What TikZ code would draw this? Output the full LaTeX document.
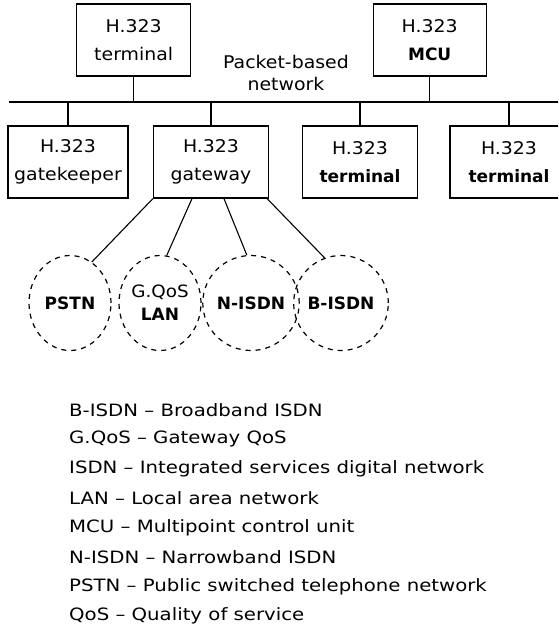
\documentclass[tikz,border=0pt]{standalone}
\usepackage{fontspec}
\setmainfont{DejaVu Sans}
% slightly widened faces for the box captions and the abbreviation list
\newfontfamily\boxfont[FakeStretch=1.08]{DejaVu Sans}
\newfontfamily\listfont[FakeStretch=1.16]{DejaVu Sans}
\newcommand\heavy[1]{{\rmfamily\bfseries\fontsize{17}{28}\selectfont #1}}
\usetikzlibrary{shapes.geometric,calc}
\tikzset{
  unitbox/.style={draw, line width=1.3pt, minimum width=115pt, minimum height=72pt,
    inner sep=1pt, align=center, font=\boxfont\fontsize{17.5}{28}\selectfont},
  cloud/.style={draw, dashed, dash pattern=on 5pt off 5pt, line width=1.2pt, ellipse,
    minimum width=82pt, minimum height=95pt, inner sep=0pt, align=center,
    font=\fontsize{17}{23}\selectfont},
  link/.style={line width=1.3pt},
  wire/.style={line width=1.1pt},
  legendtext/.style={anchor=west, inner sep=0pt, font=\listfont\fontsize{17}{20}\selectfont}
}
\begin{document}
\begin{tikzpicture}[x=1pt,y=-1pt]
\useasboundingbox (0,0) rectangle (558,633);
\begin{scope}
\clip (0,0) rectangle (558,633);
% upper row
\node[unitbox, minimum width=114pt] (term1) at (133.7,40) {H.323\\terminal};
\node[unitbox, minimum width=113pt] (mcu) at (429.7,40) {H.323\\\heavy{MCU}};
\node[align=center, inner sep=0pt, font=\boxfont\fontsize{17.5}{22}\selectfont] (pkt) at (286,73) {Packet-based\\network};
% shared bus
\coordinate (busL) at (9,102);
\coordinate (busR) at (560,102);
\draw[link] (busL) -- (busR);
% lower row
\node[unitbox, minimum width=120pt] (gk) at (68,162) {H.323\\gatekeeper};
\node[unitbox] (gw) at (211,162) {H.323\\gateway};
\node[unitbox] (term2) at (360,162) {H.323\\\heavy{terminal}};
\node[unitbox, minimum width=118pt] (term3) at (509,162) {H.323\\\heavy{terminal}};
\end{scope}
% drops onto the bus
\draw[link] (term1.south) -- (term1.south |- busL);
\draw[link] (mcu.south) -- (mcu.south |- busL);
\foreach \n in {gk,gw,term2,term3}
  \draw[link] (\n.north) -- (\n.north |- busL);
% networks behind the gateway
\node[cloud] (pstn) at (70,303) {\textbf{PSTN}};
\node[cloud] (gqos) at (160,303) {{\boxfont G.QoS}\\\textbf{LAN}};
\node[cloud] (nisdn) at (251,303) {\textbf{N-ISDN}};
\node[cloud] (bisdn) at (341,303) {\textbf{B-ISDN}};
\draw[wire] (gw.south west) -- (pstn.62);
\draw[wire] ([xshift=-19pt]gw.south) -- (gqos.82);
\draw[wire] ([xshift=13pt]gw.south) -- (nisdn.95);
\draw[wire] ([xshift=-2pt]gw.south east) -- (bisdn.110);
% abbreviations
\foreach \t [count=\i from 0] in {
  B-ISDN – Broadband ISDN,
  G.QoS – Gateway QoS,
  ISDN – Integrated services digital network,
  LAN – Local area network,
  MCU – Multipoint control unit,
  N-ISDN – Narrowband ISDN,
  PSTN – Public switched telephone network,
  QoS – Quality of service}
  \node[legendtext] (abbr\i) at (69,410+29.4*\i) {\t};
\end{tikzpicture}
\end{document}
